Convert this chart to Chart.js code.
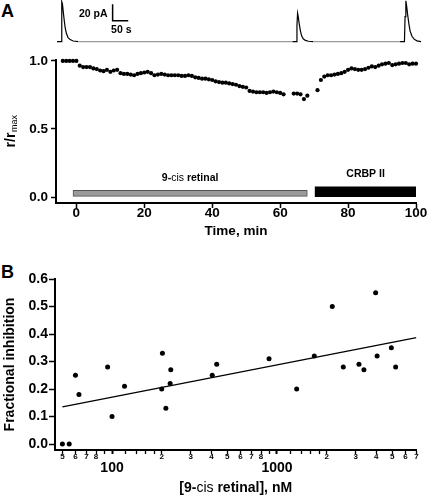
<!DOCTYPE html>
<html>
<head>
<meta charset="utf-8">
<script src="https://cdn.jsdelivr.net/npm/chart.js@4.4.1/dist/chart.umd.min.js"></script>
<style>
  body { margin: 0; background: #fff; width: 427px; height: 495px; position: relative; overflow: hidden;
         font-family: "Liberation Sans", Arial, sans-serif; }
  canvas { position: absolute; left: 0; }
  .panel { position: absolute; left: 1px; font-weight: bold; font-size: 18px; line-height: 18px; }
</style>
</head>
<body>
<div class="panel" style="top:1.5px">A</div>
<div class="panel" style="top:263px">B</div>
<canvas id="trace" style="top:0" width="427" height="48"></canvas>
<canvas id="chartA" style="top:48px" width="427" height="200"></canvas>
<canvas id="chartB" style="top:250px" width="427" height="245"></canvas>
<script>
// --- inset current trace (s, pA) ---
const traceTime = [0, 13, 14.5, 16, 17.5, 20, 23, 26, 30, 35, 42, 52, 68,
  754, 766, 768, 770, 772, 775, 779, 783, 788, 795, 805, 820,
  1098, 1112, 1114, 1116.5, 1119, 1122, 1126, 1130, 1136, 1143, 1152, 1165];
const traceCurrent = [0, 0, 30, 48, 45, 36, 26, 17, 10, 5, 2.5, 0.8, 0,
  0, 0, 20, 34, 30, 22, 13, 7, 3.5, 1.5, 0.5, 0,
  0, 0, 30, 49, 43, 33, 22, 13, 6.5, 3, 1, 0];
const scaleBarTime = [178, 178, 228];
const scaleBarCurrent = [45, 25, 25];

// --- panel A: normalised response vs time ---
const timeMin = [-4, -3, -2, -1, 0,
  1, 2, 3, 4, 5, 6, 7, 8, 9, 10, 11, 12, 13, 14, 15, 16, 17, 18, 19, 20,
  21, 22, 23, 24, 25, 26, 27, 28, 29, 30, 31, 32, 33, 34, 35, 36, 37, 38, 39, 40,
  41, 42, 43, 44, 45, 46, 47, 48, 49, 50, 51, 52, 53, 54, 55, 56, 57, 58, 59, 60, 61,
  64, 65, 66, 67, 68,
  71, 72, 73, 74, 75, 76, 77, 78, 79, 80, 81, 82, 83, 84, 85, 86, 87, 88, 89, 90,
  91, 92, 93, 94, 95, 96, 97, 98, 99, 100];
const ratio = [1, 1, 1, 1, 1,
  0.965, 0.955, 0.955, 0.955, 0.945, 0.94, 0.93, 0.925, 0.935, 0.92, 0.93, 0.935, 0.91, 0.905, 0.905, 0.9, 0.895, 0.905, 0.91, 0.915,
  0.92, 0.91, 0.895, 0.9, 0.905, 0.9, 0.895, 0.895, 0.895, 0.895, 0.89, 0.89, 0.895, 0.89, 0.88, 0.875, 0.87, 0.87, 0.865, 0.86,
  0.85, 0.845, 0.84, 0.84, 0.835, 0.83, 0.825, 0.815, 0.81, 0.805, 0.78, 0.775, 0.77, 0.77, 0.77, 0.765, 0.77, 0.775, 0.77, 0.765, 0.755,
  0.76, 0.76, 0.755, 0.72, 0.745,
  0.785, 0.86, 0.885, 0.895, 0.895, 0.9, 0.905, 0.91, 0.92, 0.935, 0.945, 0.94, 0.935, 0.935, 0.94, 0.95, 0.96, 0.955, 0.965, 0.975,
  0.98, 0.985, 0.97, 0.975, 0.98, 0.985, 0.985, 0.975, 0.98, 0.98];
const treatments = ['9-cis retinal', 'CRBP II'];
const treatStart = [-1, 70.3];
const treatEnd = [68, 100];
const timeTicks = [0, 20, 40, 60, 80, 100];
const ratioTicks = [0, 0.5, 1];

// --- panel B: fractional inhibition vs concentration ---
const concNM = [50, 55, 60, 63, 94, 100, 119, 200, 202, 212, 225, 227, 405, 431, 895,
  1316, 1683, 2163, 2523, 3140, 3363, 3962, 4045, 4933, 5240];
const inhibition = [0, 0, 0.25, 0.18, 0.28, 0.10, 0.21, 0.20, 0.33, 0.13, 0.22, 0.27, 0.25, 0.29, 0.31,
  0.20, 0.32, 0.50, 0.28, 0.29, 0.27, 0.55, 0.32, 0.35, 0.28];
const fitConc = [50, 7000];
const fitInhibition = [0.135, 0.387];
const concTicks = [50, 60, 70, 80, 90, 100, 120, 140, 160, 180, 200, 300, 400, 500, 600, 700, 800, 900,
  1000, 1200, 1400, 1600, 1800, 2000, 3000, 4000, 5000, 6000, 7000];
const concTickLabels = ['5', '6', '7', '8', '', '100', '', '', '', '', '2', '3', '4', '5', '6', '7', '8', '',
  '1000', '', '', '', '', '2', '3', '4', '5', '6', '7'];
const inhibTicks = [0, 0.1, 0.2, 0.3, 0.4, 0.5, 0.6];

const FONT = '"Liberation Sans", Arial, sans-serif';
Chart.defaults.font.family = FONT;
Chart.defaults.color = '#000';
Chart.defaults.animation = false;

const pts = (xs, ys) => xs.map((x, i) => ({x: x, y: ys[i]}));
const axisBorder = {color: '#000', width: 2};

function drawMixed(ctx, text, x, y, size, thinWord) {
  const parts = text.split(new RegExp('(' + thinWord + ')')).filter(Boolean);
  const fontOf = p => (p === thinWord ? 'normal ' : 'bold ') + size + 'px ' + FONT;
  let total = 0;
  parts.forEach(p => { ctx.font = fontOf(p); total += ctx.measureText(p).width; });
  let cx = x - total / 2;
  ctx.textAlign = 'left';
  parts.forEach(p => { ctx.font = fontOf(p); ctx.fillText(p, cx, y); cx += ctx.measureText(p).width; });
}

// inset trace
new Chart(document.getElementById('trace'), {
  type: 'scatter',
  data: {
    datasets: [
      {
        data: pts(traceTime, traceCurrent),
        showLine: true, pointRadius: 0, borderWidth: 1.2, borderColor: '#000', clip: false,
        segment: {borderColor: c => (c.p1.parsed.x - c.p0.parsed.x > 100 ? '#9a9a9a' : '#000')}
      },
      {
        data: pts(scaleBarTime, scaleBarCurrent),
        showLine: true, pointRadius: 0, borderWidth: 1.5, borderColor: '#000', clip: false
      }
    ]
  },
  options: {
    responsive: false, devicePixelRatio: 1,
    layout: {padding: {left: 57, right: 6, top: 0, bottom: 3}},
    plugins: {legend: {display: false}, tooltip: {enabled: false}},
    scales: {
      x: {type: 'linear', min: 0, max: 1165, display: false},
      y: {type: 'linear', min: -4, max: 50, display: false}
    }
  },
  plugins: [{
    id: 'barText',
    afterDraw(chart) {
      const {ctx} = chart;
      const bx = chart.scales.x.getPixelForValue(scaleBarTime[0]);
      const yTop = chart.scales.y.getPixelForValue(scaleBarCurrent[0]);
      const yBot = chart.scales.y.getPixelForValue(scaleBarCurrent[1]);
      ctx.save();
      ctx.fillStyle = '#000';
      ctx.font = 'bold 10.5px ' + FONT;
      ctx.textBaseline = 'alphabetic';
      ctx.textAlign = 'right';
      ctx.fillText('20 pA', bx - 5, (yTop + yBot) / 2 + 4);
      ctx.textAlign = 'left';
      ctx.fillText('50 s', bx - 1.5, yBot + 12.6);
      ctx.restore();
    }
  }]
});

// panel A
new Chart(document.getElementById('chartA'), {
  type: 'scatter',
  data: {
    datasets: [
      {
        type: 'bar', indexAxis: 'y', grouped: false,
        data: [{x: [treatStart[0], treatEnd[0]], y: 0.027}],
        barThickness: 6, backgroundColor: '#9a9a9a', borderColor: '#555', borderWidth: 1, borderSkipped: false
      },
      {
        type: 'bar', indexAxis: 'y', grouped: false,
        data: [{x: [treatStart[1], treatEnd[1]], y: 0.039}],
        barThickness: 10, backgroundColor: '#000', borderWidth: 0, borderSkipped: false
      },
      {
        data: pts(timeMin, ratio),
        pointRadius: 2.1, backgroundColor: '#000', borderWidth: 0, clip: false
      }
    ]
  },
  options: {
    responsive: false, devicePixelRatio: 1,
    layout: {padding: {left: 0, right: 11, top: 12, bottom: 0}},
    plugins: {legend: {display: false}, tooltip: {enabled: false}},
    scales: {
      x: {
        type: 'linear', min: -6, max: 100, offset: false,
        afterBuildTicks: s => { s.ticks = timeTicks.map(v => ({value: v})); },
        afterFit: s => { s.height = 45; },
        border: axisBorder,
        grid: {offset: false, drawOnChartArea: false, color: '#000', tickLength: 5, tickWidth: 1.5},
        ticks: {font: {size: 13.5, weight: 'bold', lineHeight: 1}, padding: -1, maxRotation: 0, autoSkip: false},
        title: {display: true, text: 'Time, min', font: {size: 13.5, weight: 'bold'}, padding: {top: 0, bottom: 9}}
      },
      y: {
        type: 'linear', min: -0.044, max: 1.007, offset: false,
        afterBuildTicks: s => { s.ticks = ratioTicks.map(v => ({value: v})); },
        afterFit: s => { s.width = 56; },
        border: axisBorder,
        grid: {offset: false, drawOnChartArea: false, color: '#000', tickLength: 5, tickWidth: 1.5},
        ticks: {font: {size: 13.5, weight: 'bold', lineHeight: 1}, padding: 3, callback: v => v.toFixed(1)}
      }
    }
  },
  plugins: [{
    id: 'labelsA',
    afterDraw(chart) {
      const {ctx, chartArea} = chart;
      const xs = chart.scales.x, ys = chart.scales.y;
      ctx.save();
      ctx.fillStyle = '#000';
      ctx.textBaseline = 'alphabetic';
      const labelY = [0.12, 0.145];
      treatments.forEach((t, i) => {
        const cx = xs.getPixelForValue((treatStart[i] + treatEnd[i]) / 2);
        drawMixed(ctx, t, cx, ys.getPixelForValue(labelY[i]), 10.5, 'cis');
      });
      // y title r/r_max
      const cy = (chartArea.top + chartArea.bottom) / 2;
      ctx.translate(14.5, cy);
      ctx.rotate(-Math.PI / 2);
      ctx.font = 'bold 14px ' + FONT;
      const w1 = ctx.measureText('r/r').width;
      ctx.font = 'normal 9px ' + FONT;
      const w2 = ctx.measureText('max').width;
      const x0 = -(w1 + w2) / 2;
      ctx.textAlign = 'left';
      ctx.font = 'bold 14px ' + FONT;
      ctx.fillText('r/r', x0, 0);
      ctx.font = 'normal 9px ' + FONT;
      ctx.fillText('max', x0 + w1 + 0.5, 2);
      ctx.restore();
    }
  }]
});

// panel B
new Chart(document.getElementById('chartB'), {
  type: 'scatter',
  data: {
    datasets: [
      {
        data: pts(fitConc, fitInhibition),
        showLine: true, pointRadius: 0, borderWidth: 1.3, borderColor: '#000'
      },
      {
        data: pts(concNM, inhibition),
        pointRadius: 2.5, backgroundColor: '#000', borderWidth: 0, clip: false
      }
    ]
  },
  options: {
    responsive: false, devicePixelRatio: 1,
    layout: {padding: {left: 0, right: 10.6, top: 29, bottom: 0}},
    plugins: {legend: {display: false}, tooltip: {enabled: false}},
    scales: {
      x: {
        type: 'logarithmic', min: 45.1, max: 7000,
        afterBuildTicks: s => { s.ticks = concTicks.map(v => ({value: v})); },
        afterFit: s => { s.height = 45; },
        border: axisBorder,
        grid: {
          drawOnChartArea: false, color: '#000', tickLength: 4,
          tickWidth: c => (concTickLabels[c.index] && concTickLabels[c.index].length > 1 ? 2 : 1.3)
        },
        ticks: {
          autoSkip: false, maxRotation: 0, padding: -1.5,
          callback: (v, i) => concTickLabels[i],
          font: c => (concTickLabels[c.index] && concTickLabels[c.index].length > 1
            ? {size: 14, weight: 'bold', lineHeight: 2.29}
            : {size: 8, weight: 'bold', lineHeight: 1})
        }
      },
      y: {
        type: 'linear', min: -0.0218, max: 0.6,
        afterBuildTicks: s => { s.ticks = inhibTicks.map(v => ({value: v})); },
        afterFit: s => { s.width = 55; },
        border: axisBorder,
        grid: {drawOnChartArea: false, color: '#000', tickLength: 6, tickWidth: 1.5},
        ticks: {font: {size: 14, weight: 'bold', lineHeight: 1}, padding: 1, callback: v => v.toFixed(1)},
        title: {display: true, text: 'Fractional inhibition', font: {size: 14, weight: 'bold'}, padding: {top: 2, bottom: 0}}
      }
    }
  },
  plugins: [{
    id: 'titleB',
    afterDraw(chart) {
      const {ctx, chartArea} = chart;
      ctx.save();
      ctx.fillStyle = '#000';
      ctx.textBaseline = 'alphabetic';
      drawMixed(ctx, '[9-cis retinal], nM', (chartArea.left + chartArea.right) / 2, 242, 14, 'cis');
      ctx.restore();
    }
  }]
});
</script>
</body>
</html>
